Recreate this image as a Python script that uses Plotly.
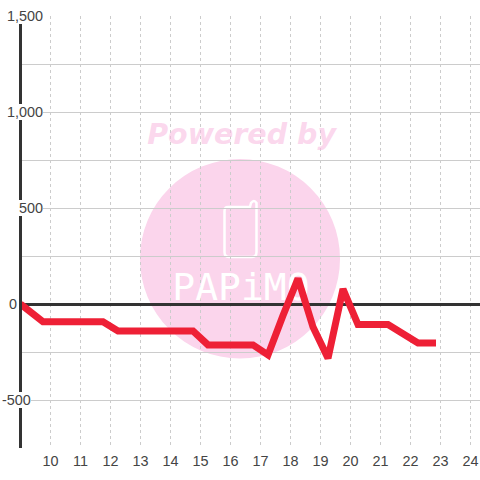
import plotly.graph_objects as go

hours = [9, 9.75, 11.75, 12.25, 14.75, 15.25, 16.75, 17.25, 17.75, 18.25, 18.75, 19.25, 19.75, 20.25, 21.25, 21.75, 22.25, 22.85]
values = [0, -92, -92, -140, -140, -213, -213, -265, -60, 133, -120, -282, 78, -107, -107, -160, -203, -203]
x_ticks = list(range(10, 25))
y_label_values = [1500, 1000, 500, 0, -500]
y_label_text = ["1,500", "1,000", "500", "0", "-500"]
y_label_right = [43, 43, 43, 17, 31]

L, R, T, B = 22, 0, 16, 32
W = 480 - L - R
H = 480 - T - B
TEXT = "#444444"
GRID = "#cccccc"
PINK = "#fbd5ec"

def px(v):
    return (v - L) / W

def py(v):
    return (480 - B - v) / H

fig = go.Figure()
fig.add_trace(go.Scatter(x=[16.37], y=[870], mode="text", text=["Powered by"], textposition="middle center",
                         textfont=dict(family="DejaVu Sans", size=28.5, weight="bold", style="italic", color="rgba(249,190,226,0.62)"),
                         hoverinfo="skip", showlegend=False))
fig.add_trace(go.Scatter(x=[16.35], y=[72], mode="text", text=["PAPiMO"], textposition="middle center",
                         textfont=dict(family="DejaVu Sans Mono", size=38, color="#ffffff"),
                         hoverinfo="skip", showlegend=False))
fig.add_trace(go.Scatter(x=hours, y=values, mode="lines", line=dict(color="#ee2036", width=7),
                         cliponaxis=False, hoverinfo="skip", showlegend=False))

phone = (f"M {px(228)} {py(207)} L {px(250)} {py(207)} L {px(251)} {py(203)} Q {px(254)} {py(199)} {px(256.5)} {py(203)} "
         f"L {px(256.5)} {py(252)} Q {px(256.5)} {py(257)} {px(252)} {py(257)} L {px(229)} {py(257)} "
         f"Q {px(224.5)} {py(257)} {px(224.5)} {py(252)} L {px(224.5)} {py(211)} Q {px(224.5)} {py(207)} {px(228)} {py(207)} Z")

fig.update_layout(
    width=480, height=480, autosize=False,
    margin=dict(l=L, r=R, t=T, b=B, pad=0),
    paper_bgcolor="white", plot_bgcolor="white",
    font=dict(family="Liberation Sans", size=14, color=TEXT),
    showlegend=False,
    xaxis=dict(range=[9.05, 9.05 + W / 30], tickmode="array", tickvals=x_ticks, ticktext=[str(t) for t in x_ticks],
               showgrid=True, gridcolor=GRID, griddash="3px,3px", gridwidth=1, zeroline=False,
               showline=False, ticks="", ticklabelstandoff=3, tickfont=dict(size=14.4, color=TEXT), fixedrange=True),
    yaxis=dict(range=[-750, 1500], tick0=0, dtick=250, showgrid=True, gridcolor=GRID, gridwidth=1,
               zeroline=True, zerolinecolor="#333333", zerolinewidth=3,
               showline=True, linecolor="#333333", linewidth=3, ticks="", showticklabels=False, fixedrange=True),
    shapes=[
        dict(type="circle", xref="paper", yref="paper", x0=px(140), x1=px(340), y0=py(358.5), y1=py(159),
             fillcolor=PINK, line=dict(width=0), layer="below"),
        dict(type="path", xref="paper", yref="paper", path=phone, line=dict(color="#ffffff", width=2.5),
             fillcolor="rgba(0,0,0,0)", layer="below"),
    ],
    annotations=[
        dict(x=px(r), y=v, xref="paper", yref="y", text=t, showarrow=False, xanchor="right", yanchor="middle",
             bgcolor="white", borderpad=0, borderwidth=0, font=dict(size=14.4, color=TEXT))
        for v, t, r in zip(y_label_values, y_label_text, y_label_right)
    ],
)
fig.write_html("out.html", config={"displayModeBar": False},
               post_script="document.body.style.margin='0';document.documentElement.style.overflow='hidden';")
